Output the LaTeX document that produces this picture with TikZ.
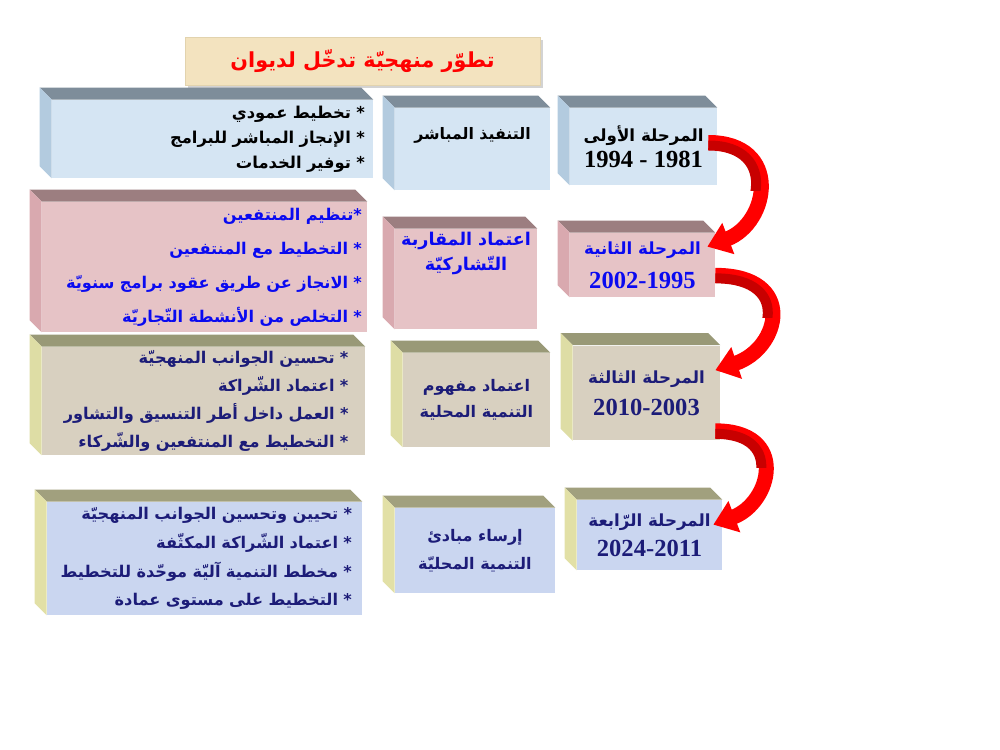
\documentclass[tikz,border=0pt]{standalone}
\usepackage{fontspec}
\usepackage{tikz}
\usetikzlibrary{arrows.meta, calc, shadows}
\TeXXeTstate=1
\newfontfamily\arabicfont[Script=Arabic]{DejaVu Sans}
\newfontfamily\numfont{Liberation Serif}

\definecolor{titlefill}{HTML}{F3E3BF}
\definecolor{titleedge}{HTML}{E2D3AE}
\definecolor{blueface}{HTML}{D5E5F3}
\definecolor{bluetop}{HTML}{7E8D9A}
\definecolor{blueside}{HTML}{B3CBDF}
\definecolor{pinkface}{HTML}{E6C3C6}
\definecolor{pinktop}{HTML}{9C7E80}
\definecolor{pinkside}{HTML}{D9A9AF}
\definecolor{khakiface}{HTML}{D8D0C0}
\definecolor{khakitop}{HTML}{999977}
\definecolor{khakiside}{HTML}{DEDDA5}
\definecolor{lavface}{HTML}{CAD6F0}
\definecolor{lavtop}{HTML}{A1A07E}
\definecolor{lavside}{HTML}{E2E0A6}
\definecolor{textblue}{HTML}{0A0AF0}
\definecolor{textnavy}{HTML}{1C1C78}
\definecolor{arrowred}{HTML}{FF0000}
\definecolor{arrowdark}{HTML}{C80000}

\newcommand{\artext}[1]{\mbox{\beginR #1\endR}}
\newcommand{\yearfont}{\numfont\bfseries\fontsize{14}{15}\selectfont}
% top and left faces of a box node
\newcommand{\cubefaces}[3]{%
  \fill[#2] (#1.north west) -- ++(-12,-12) -- ([shift={(-12,-12)}]#1.north east) -- (#1.north east) -- cycle;
  \fill[#3] (#1.north west) -- ++(-12,-12) -- ([shift={(-12,-12)}]#1.south west) -- (#1.south west) -- cycle;
}

\begin{document}
\begin{tikzpicture}[x=0.02cm, y=-0.02cm,
  cube/.style={inner sep=2pt, align=center, font=\arabicfont\bfseries\fontsize{9}{14}\selectfont},
  stage/.style={cube, font=\arabicfont\bfseries\fontsize{9.5}{18}\selectfont},
  bigarrow/.style={line width=0.3cm, draw=arrowred, -{Triangle[length=0.45cm, width=0.64cm, fill=arrowred]}},
  darkband/.style={line width=0.2cm, draw=arrowdark},
]
\useasboundingbox (0,0) rectangle (1000,750);

% Title
\node[fill=titlefill, draw=titleedge, drop shadow={opacity=0.35, shadow xshift=1.5pt, shadow yshift=-1.5pt},
  minimum width=7.1cm, minimum height=0.96cm, text=red, font=\arabicfont\bfseries\fontsize{11.8}{14}\selectfont] (title) at (362.5,61)
  {\artext{تطوّر منهجيّة تدخّل لديوان}};

% Row 1: first stage
\node[cube, fill=blueface, minimum width=6.42cm, minimum height=1.56cm, text width=6.1cm, align=right, font=\arabicfont\bfseries\fontsize{9.3}{14.2}\selectfont] (tasks1) at (212.5,139)
  {\artext{* تخطيط عمودي}\\ \artext{* الإنجاز المباشر للبرامج}\\ \artext{* توفير الخدمات}};
\node[cube, fill=blueface, minimum width=3.1cm, minimum height=1.64cm, text depth=0.62cm] (mode1) at (472.5,149)
  {\artext{التنفيذ المباشر}};
\node[stage, fill=blueface, minimum width=2.94cm, minimum height=1.54cm, font=\arabicfont\bfseries\fontsize{9.5}{14.7}\selectfont] (stage1) at (643.5,146.5)
  {\artext{المرحلة الأولى}\\ {\yearfont 1994 - 1981}};
\cubefaces{tasks1}{bluetop}{blueside}
\cubefaces{mode1}{bluetop}{blueside}
\cubefaces{stage1}{bluetop}{blueside}

% Row 2: second stage
\node[cube, fill=pinkface, minimum width=6.5cm, minimum height=2.6cm, text width=6.3cm, align=right, text=textblue, font=\arabicfont\bfseries\fontsize{9.2}{19.3}\selectfont] (tasks2) at (204.5,267)
  {\artext{*تنظيم المنتفعين}\\ \artext{* التخطيط مع المنتفعين}\\ \artext{* الانجاز عن طريق عقود برامج سنويّة}\\ \artext{* التخلص من الأنشطة التّجاريّة}};
\node[cube, fill=pinkface, minimum width=2.84cm, minimum height=1.96cm, text=textblue, text depth=1.1cm, font=\arabicfont\bfseries\fontsize{10}{14}\selectfont] (mode2) at (466,279)
  {\artext{اعتماد المقاربة}\\ \artext{التّشاركيّة}};
\node[stage, fill=pinkface, minimum width=2.9cm, minimum height=1.28cm, text=textblue, font=\arabicfont\bfseries\fontsize{9.5}{19.5}\selectfont] (stage2) at (642.5,265)
  {\artext{المرحلة الثانية}\\ {\yearfont 2002-1995}};
\cubefaces{tasks2}{pinktop}{pinkside}
\cubefaces{mode2}{pinktop}{pinkside}
\cubefaces{stage2}{pinktop}{pinkside}

% Row 3: third stage
\node[cube, fill=khakiface, minimum width=6.46cm, minimum height=2.16cm, text width=5.8cm, align=right, text=textnavy, font=\arabicfont\bfseries\fontsize{9.2}{15.9}\selectfont] (tasks3) at (203.5,401)
  {\artext{* تحسين الجوانب المنهجيّة}\\ \artext{* اعتماد الشّراكة}\\ \artext{* العمل داخل أطر التنسيق والتشاور}\\ \artext{* التخطيط مع المنتفعين والشّركاء}};
\node[cube, fill=khakiface, minimum width=2.94cm, minimum height=1.88cm, text=textnavy, font=\arabicfont\bfseries\fontsize{9.1}{15}\selectfont] (mode3) at (476.5,400)
  {\artext{اعتماد مفهوم}\\ \artext{التنمية المحلية}};
\node[stage, fill=khakiface, minimum width=2.94cm, minimum height=1.9cm, text=textnavy] (stage3) at (646.5,393)
  {\artext{المرحلة الثالثة}\\ {\yearfont 2010-2003}};
\cubefaces{tasks3}{khakitop}{khakiside}
\cubefaces{mode3}{khakitop}{khakiside}
\cubefaces{stage3}{khakitop}{khakiside}

% Row 4: fourth stage
\node[cube, fill=lavface, minimum width=6.3cm, minimum height=2.26cm, text width=5.9cm, align=right, text=textnavy, font=\arabicfont\bfseries\fontsize{9.2}{16.4}\selectfont] (tasks4) at (204.5,558.5)
  {\artext{* تحيين وتحسين الجوانب المنهجيّة}\\ \artext{* اعتماد الشّراكة المكثّفة}\\ \artext{* مخطط التنمية آليّة موحّدة للتخطيط}\\ \artext{* التخطيط على مستوى عمادة}};
\node[cube, fill=lavface, minimum width=3.2cm, minimum height=1.7cm, text=textnavy, font=\arabicfont\bfseries\fontsize{9.1}{15.8}\selectfont] (mode4) at (475,550.5)
  {\artext{إرساء مبادئ}\\ \artext{التنمية المحليّة}};
\node[stage, fill=lavface, minimum width=2.9cm, minimum height=1.4cm, text=textnavy, font=\arabicfont\bfseries\fontsize{9.5}{17}\selectfont] (stage4) at (649.5,535)
  {\artext{المرحلة الرّابعة}\\ {\yearfont 2024-2011}};
\cubefaces{tasks4}{lavtop}{lavside}
\cubefaces{mode4}{lavtop}{lavside}
\cubefaces{stage4}{lavtop}{lavside}

% Curved arrows between stages
\draw[bigarrow] ($(stage1.east)+(-9,-4)$) .. controls +(74,0) and +(62,-24) .. ($(stage2.north east)+(-8,14)$);
\draw[bigarrow] ($(stage2.south east)+(0,-22)$) .. controls +(82,0) and +(65,-22) .. ($(stage3.north east)+(-5,25)$);
\draw[bigarrow] ($(stage3.south east)+(-5,-10)$) .. controls +(74,0) and +(58,-22) .. ($(stage4.north east)+(-9,25)$);
% darker inner band on the upper half of each arrow
\begin{scope}
  \clip ($(stage1.north east)+(-20,0)$) rectangle ($(stage2.north east)+(100,-42)$);
  \draw[darkband] ($(stage1.east)+(-9,-1)$) .. controls +(72,0) and +(60,-24) .. ($(stage2.north east)+(-11,17)$);
\end{scope}
\begin{scope}
  \clip ($(stage2.south east)+(-20,-40)$) rectangle ($(stage3.north east)+(100,-28)$);
  \draw[darkband] ($(stage2.south east)+(0,-19)$) .. controls +(80,0) and +(63,-22) .. ($(stage3.north east)+(-8,28)$);
\end{scope}
\begin{scope}
  \clip ($(stage3.south east)+(-20,-30)$) rectangle ($(stage4.north east)+(100,-32)$);
  \draw[darkband] ($(stage3.south east)+(-5,-7)$) .. controls +(72,0) and +(56,-22) .. ($(stage4.north east)+(-12,28)$);
\end{scope}
\end{tikzpicture}
\end{document}
